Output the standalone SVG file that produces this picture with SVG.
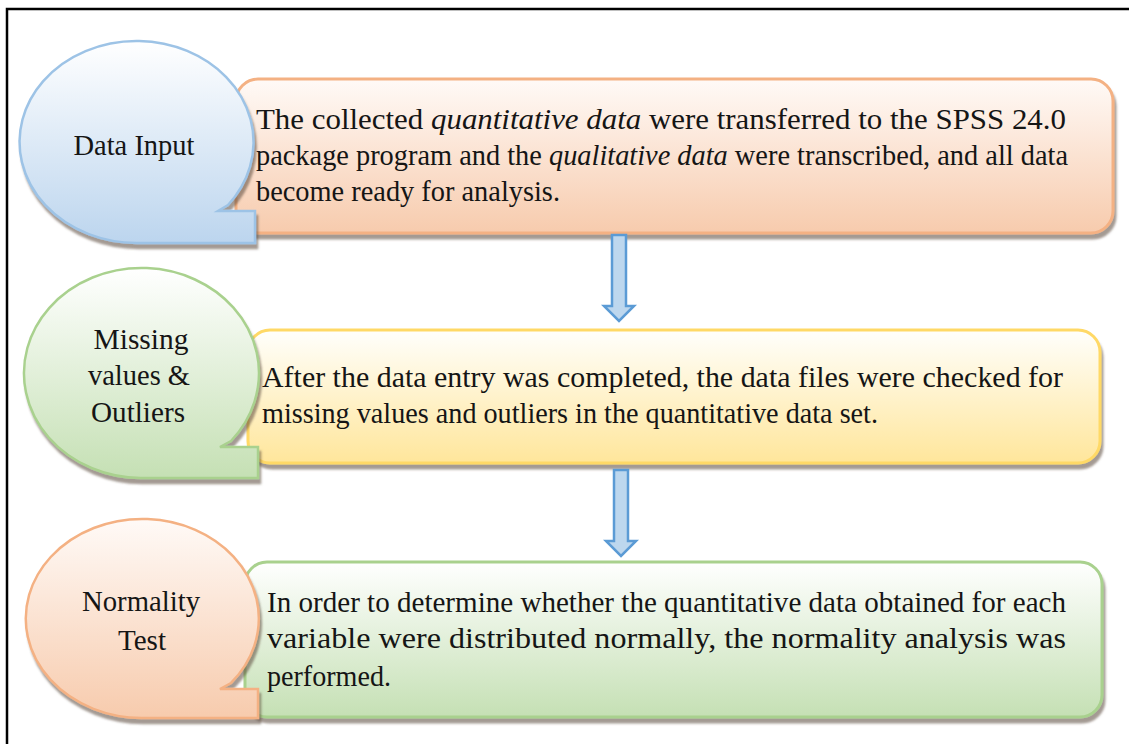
<svg xmlns="http://www.w3.org/2000/svg" width="1129" height="744" viewBox="0 0 1129 744">
  <defs>
    <style>
      .t { font-family: "Liberation Serif", "Times New Roman", Tinos, serif; font-size: 30px; fill: #151515; }
      .c { text-anchor: middle; }
      .i { font-style: italic; }
      .arrow { fill: #bdd7ee; stroke: #5b9bd5; stroke-width: 2.5; stroke-linejoin: miter; }
    </style>
    <linearGradient id="gBlue" x1="0" y1="0" x2="0" y2="1">
      <stop offset="0" stop-color="#ffffff"/>
      <stop offset="1" stop-color="#bcd5ee"/>
    </linearGradient>
    <linearGradient id="gOrange" x1="0" y1="0" x2="0" y2="1">
      <stop offset="0" stop-color="#fffaf7"/>
      <stop offset="1" stop-color="#f7cbad"/>
    </linearGradient>
    <linearGradient id="gYellow" x1="0" y1="0" x2="0" y2="1">
      <stop offset="0" stop-color="#fffffc"/>
      <stop offset="1" stop-color="#ffe69b"/>
    </linearGradient>
    <linearGradient id="gGreen" x1="0" y1="0" x2="0" y2="1">
      <stop offset="0" stop-color="#ffffff"/>
      <stop offset="1" stop-color="#c5e0b4"/>
    </linearGradient>
    <filter id="sh" x="-10%" y="-10%" width="125%" height="130%">
      <feDropShadow dx="2" dy="5" stdDeviation="1.2" flood-color="#5a4a3a" flood-opacity="0.55"/>
    </filter>
  </defs>

  <rect width="1129" height="744" fill="#ffffff"/>
  <path d="M7,744 V9 H1129" fill="none" stroke="#000" stroke-width="2.5"/>

  <g id="box1">
    <rect x="236" y="79" width="877" height="154" rx="22" fill="url(#gOrange)" stroke="#f4b183" stroke-width="3" filter="url(#sh)"/>
    <text class="t" x="256" y="129" textLength="810" lengthAdjust="spacingAndGlyphs">The collected <tspan class="i">quantitative data</tspan> were transferred to the SPSS 24.0</text>
    <text class="t" x="256" y="165" textLength="812" lengthAdjust="spacingAndGlyphs">package program and the <tspan class="i">qualitative data</tspan> were transcribed, and all data</text>
    <text class="t" x="256" y="201" textLength="304" lengthAdjust="spacingAndGlyphs">become ready for analysis.</text>
  </g>

  <g id="balloon1">
    <path d="M137,243 A117,101 0 1 1 228,205 L218,211 L255,211 L255,243 Z" fill="url(#gBlue)" stroke="#9dc3e6" stroke-width="2.5" filter="url(#sh)"/>
    <text class="t c" x="134" y="155" textLength="121" lengthAdjust="spacingAndGlyphs">Data Input</text>
  </g>

  <g id="box2">
    <rect x="248" y="330" width="852" height="133" rx="22" fill="url(#gYellow)" stroke="#ffd966" stroke-width="3" filter="url(#sh)"/>
    <text class="t" x="262" y="387" textLength="801" lengthAdjust="spacingAndGlyphs">After the data entry was completed, the data files were checked for</text>
    <text class="t" x="262" y="423" textLength="616" lengthAdjust="spacingAndGlyphs">missing values and outliers in the quantitative data set.</text>
  </g>

  <g id="balloon2">
    <path d="M140.5,478 A117.5,105 0 1 1 231,441 L220,447 L258,447 L258,478 Z" fill="url(#gGreen)" stroke="#a9d18e" stroke-width="2.5" filter="url(#sh)"/>
    <text class="t c" x="141" y="349" textLength="95" lengthAdjust="spacingAndGlyphs">Missing</text>
    <text class="t c" x="139" y="385" textLength="102" lengthAdjust="spacingAndGlyphs">values &amp;</text>
    <text class="t c" x="138" y="422" textLength="94" lengthAdjust="spacingAndGlyphs">Outliers</text>
  </g>

  <g id="box3">
    <rect x="245" y="562" width="857" height="155" rx="22" fill="url(#gGreen)" stroke="#a9d18e" stroke-width="3" filter="url(#sh)"/>
    <text class="t" x="267" y="612" textLength="799" lengthAdjust="spacingAndGlyphs">In order to determine whether the quantitative data obtained for each</text>
    <text class="t" x="267" y="648" textLength="799" lengthAdjust="spacingAndGlyphs">variable were distributed normally, the normality analysis was</text>
    <text class="t" x="267" y="686" textLength="124" lengthAdjust="spacingAndGlyphs">performed.</text>
  </g>

  <g id="balloon3">
    <path d="M141.5,718 A116.5,99.5 0 1 1 231,683 L220,689 L258,689 L258,718 Z" fill="url(#gOrange)" stroke="#f4b183" stroke-width="2.5" filter="url(#sh)"/>
    <text class="t c" x="141" y="611" textLength="118" lengthAdjust="spacingAndGlyphs">Normality</text>
    <text class="t c" x="142" y="650" textLength="48" lengthAdjust="spacingAndGlyphs">Test</text>
  </g>

  <g id="connectors">
    <path class="arrow" d="M612,235 H626 V306 H634 L619,321 L604,306 H612 Z"/>
    <path class="arrow" d="M614,470 H628 V541 H636 L621,556 L606,541 H614 Z"/>
  </g>
</svg>
